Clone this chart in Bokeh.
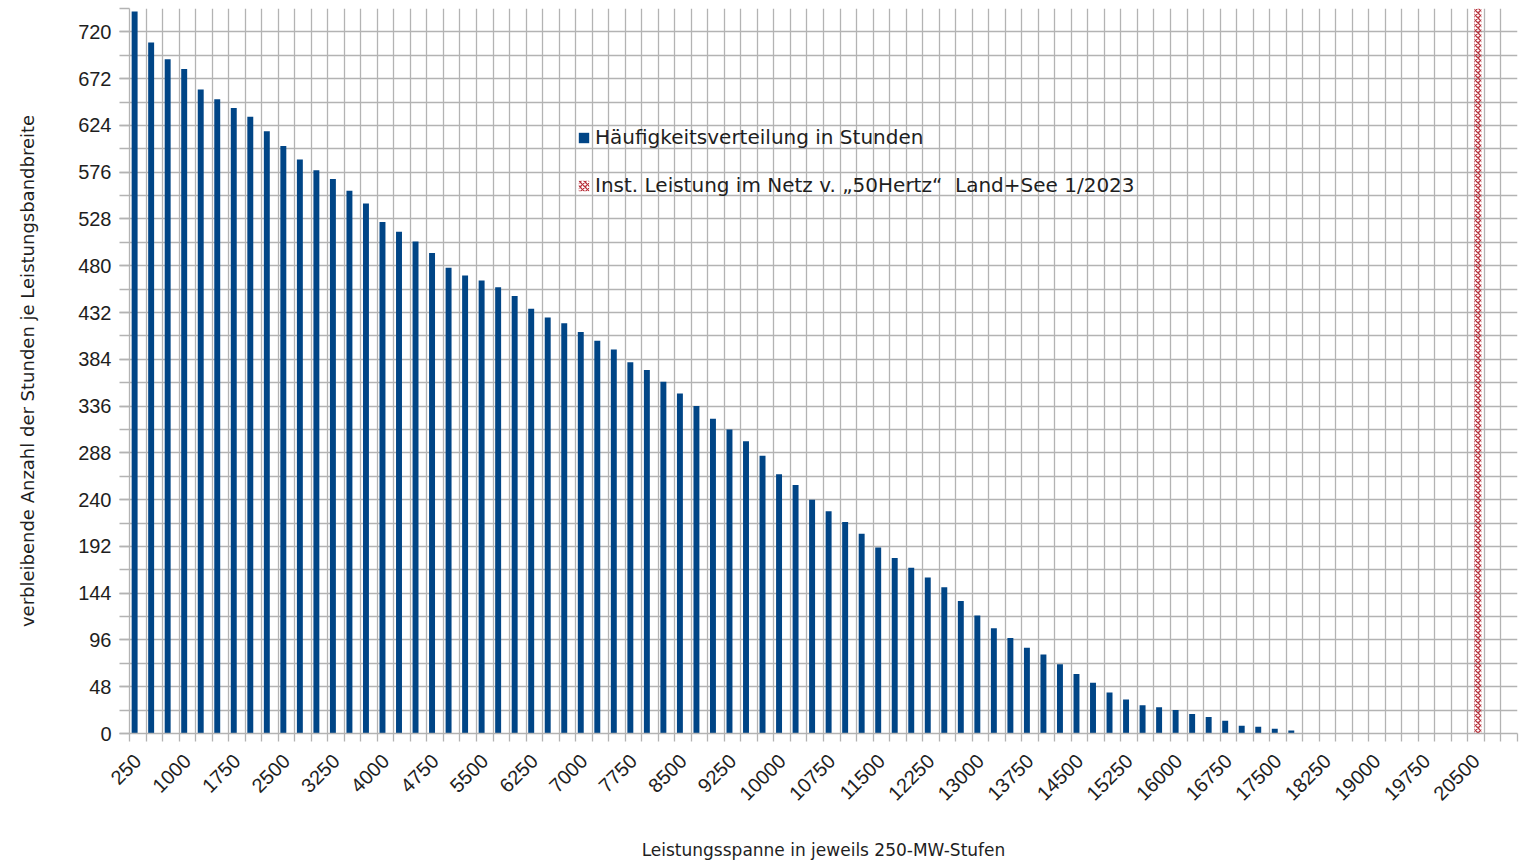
import numpy as np
from bokeh.plotting import figure
from bokeh.models import FixedTicker, Legend, LegendItem, ColumnDataSource
from bokeh.transform import dodge
from bokeh.embed import file_html
from bokeh.resources import INLINE

# ---- data ----
categories = [str(v) for v in range(250, 21001, 250)]
hours = [741, 709, 692, 682, 661, 651, 642, 633, 618, 603, 589, 578, 569, 557,
         544, 525, 515, 505, 493, 478, 470, 465, 458, 449, 436, 427, 421, 412,
         403, 394, 381, 373, 361, 349, 336, 323, 312, 300, 285, 266, 255, 240,
         228, 217, 205, 191, 180, 170, 160, 150, 136, 121, 108, 98, 88, 81, 71,
         61, 52, 42, 35, 29, 27, 24, 20, 17, 13, 8, 7, 5, 3,
         0, 0, 0, 0, 0, 0, 0, 0, 0, 0, 0, 0, 0]
installed = [0] * 81 + [744, 0, 0]
series_names = ["Häufigkeitsverteilung in Stunden",
                "Inst. Leistung im Netz v. \u201e50Hertz\u201c  Land+See 1/2023"]
x_title = "Leistungsspanne in jeweils 250-MW-Stufen"
y_title = "verbleibende Anzahl der Stunden je Leistungsbandbreite"

BLUE = "#004586"
RED = "#b8323c"
GRID = "#b3b3b3"
TXT = "#1e1e1e"

n = len(categories)
xs = np.arange(n)
src = ColumnDataSource(dict(x=xs, hours=hours, inst=installed))

p = figure(width=1519, height=862, x_range=(-0.5, n - 0.5), y_range=(0, 744),
           output_backend="svg", toolbar_location=None,
           min_border_left=129, min_border_right=2, min_border_top=8,
           min_border_bottom=129)
p.outline_line_color = None
p.background_fill_color = "white"
p.border_fill_color = "white"

r1 = p.vbar(x=dodge('x', -0.19), top='hours', width=0.36, source=src,
            fill_color=BLUE, line_color=None)
r2 = p.vbar(x=dodge('x', 0.10), top='inst', width=0.42, source=src,
            fill_color=None, line_color=None, hatch_pattern="x",
            hatch_color=RED, hatch_scale=5, hatch_weight=1.3)

# grid
boundaries = list(np.arange(n + 1) - 0.5)
p.xgrid.ticker = FixedTicker(ticks=boundaries)
p.ygrid.ticker = FixedTicker(ticks=list(range(0, 745, 24)))
for g in (p.xgrid, p.ygrid):
    g.grid_line_color = GRID
    g.grid_line_width = 1.3

# x axis
xa = p.xaxis[0]
xa.ticker = FixedTicker(ticks=list(range(0, n, 3)), minor_ticks=boundaries)
xa.major_label_overrides = {i: categories[i] for i in range(0, n, 3)}
xa.major_label_orientation = np.pi / 4
xa.major_tick_line_color = None
xa.major_tick_out = 8
xa.minor_tick_out = 8
xa.minor_tick_in = 0
xa.minor_tick_line_color = GRID
xa.minor_tick_line_width = 1.3
xa.axis_line_color = GRID
xa.axis_line_width = 1.3
xa.major_label_standoff = 16
xa.major_label_text_font = "Liberation Sans"
xa.major_label_text_font_size = "20px"
xa.major_label_text_color = TXT
xa.axis_label = x_title
xa.axis_label_standoff = 30
xa.axis_label_text_font = "DejaVu Sans"
xa.axis_label_text_font_size = "17px"
xa.axis_label_text_font_style = "normal"
xa.axis_label_text_color = TXT

# y axis
ya = p.yaxis[0]
ya.ticker = FixedTicker(ticks=list(range(0, 745, 48)), minor_ticks=list(range(0, 745, 24)))
ya.major_tick_out = 10
ya.major_tick_in = 0
ya.minor_tick_out = 10
ya.minor_tick_in = 0
ya.major_tick_line_color = GRID
ya.minor_tick_line_color = GRID
ya.major_tick_line_width = 1.3
ya.minor_tick_line_width = 1.3
ya.axis_line_color = GRID
ya.axis_line_width = 1.3
ya.major_label_standoff = 8
ya.major_label_text_font = "Liberation Sans"
ya.major_label_text_font_size = "20px"
ya.major_label_text_color = TXT
ya.axis_label = y_title
ya.axis_label_standoff = 37
ya.axis_label_text_font = "DejaVu Sans"
ya.axis_label_text_font_size = "18px"
ya.axis_label_text_font_style = "normal"
ya.axis_label_text_color = TXT

legend = Legend(items=[LegendItem(label=series_names[0], renderers=[r1]),
                       LegendItem(label=series_names[1], renderers=[r2])],
                location=(448, 536))
legend.background_fill_alpha = 0
legend.border_line_color = None
legend.padding = 0
legend.margin = 0
legend.spacing = 24
legend.label_height = 24
legend.glyph_height = 13
legend.glyph_width = 13
legend.label_standoff = 5
legend.label_text_font = "DejaVu Sans"
legend.label_text_font_size = "20px"
legend.label_text_color = TXT
p.add_layout(legend)

open("out.html", "w").write(file_html(p, INLINE))
